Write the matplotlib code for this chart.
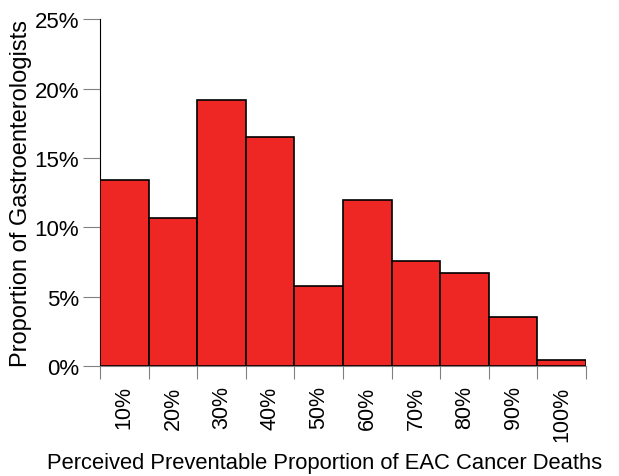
import matplotlib.pyplot as plt
import numpy as np
from matplotlib.ticker import FixedLocator, NullFormatter, FixedFormatter

plt.rcParams['font.family'] = ['Liberation Sans', 'DejaVu Sans']

# valores (% de gastroenterologistas)
categorias = ['10%', '20%', '30%', '40%', '50%', '60%', '70%', '80%', '90%', '100%']
proporcao = [13.4, 10.7, 19.2, 16.5, 5.8, 12.0, 7.6, 6.7, 3.5, 0.4]
y_ticks = [0, 5, 10, 15, 20, 25]

fig = plt.figure(figsize=(6.19, 4.77), dpi=100)
ax = fig.add_axes([0.1616, 0.2306, 0.785, 0.727])

x = np.arange(len(categorias))
ax.bar(x, proporcao, width=1.0, color='#ee2724', edgecolor='black', linewidth=1.2, zorder=3)

ax.set_xlim(-0.5, len(categorias) - 0.5)
ax.set_ylim(0, 25)

# ticks nas bordas das barras, rótulos no centro
ax.xaxis.set_major_locator(FixedLocator(np.arange(len(categorias) + 1) - 0.5))
ax.xaxis.set_major_formatter(NullFormatter())
ax.xaxis.set_minor_locator(FixedLocator(x))
ax.xaxis.set_minor_formatter(FixedFormatter(categorias))
ax.tick_params(axis='x', which='major', length=9, color='gray', direction='out')
ax.tick_params(axis='x', which='minor', length=0, labelsize=15.5, rotation=90, pad=14)

ax.set_yticks(y_ticks)
ax.set_yticklabels([f'{v}%' for v in y_ticks])
ax.tick_params(axis='y', length=12, color='gray', labelsize=16, pad=3)

ax.spines['top'].set_visible(False)
ax.spines['right'].set_visible(False)
ax.spines['bottom'].set_color('gray')
ax.spines['left'].set_color('black')

ax.set_xlabel('Perceived Preventable Proportion of EAC Cancer Deaths', fontsize=15.8, labelpad=8, x=0.463)
ax.set_ylabel('Proportion of Gastroenterologists', fontsize=17, labelpad=2)

fig.savefig('out.png', dpi=100)
